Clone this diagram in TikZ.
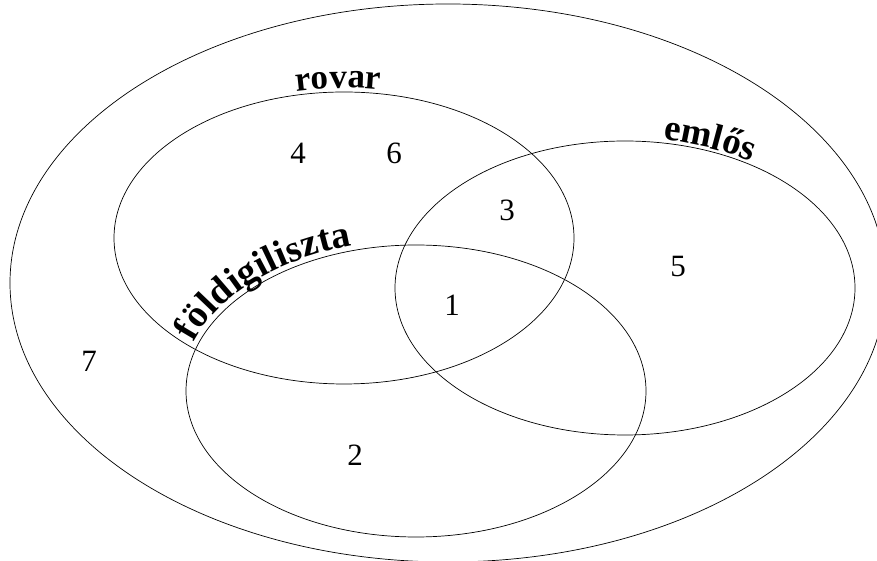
\documentclass[tikz,border=0pt]{standalone}
\usepackage{fontspec}
\setmainfont{Liberation Serif}
\usetikzlibrary{decorations.text}
\begin{document}
\begin{tikzpicture}[x=1pt,y=1pt,
  setline/.style={draw=black, line width=0.7pt},
  num/.style={font=\fontsize{31}{31}\selectfont, inner sep=0pt},
  lbl/.style={decorate, decoration={text along path, text align=center, raise=#1}}]
\useasboundingbox (0,0) rectangle (877,561);
\clip (0,0) rectangle (877,561);
% outer set
\coordinate (O) at (448,278);
\draw[setline] (O) ellipse [x radius=438, y radius=279];
% three sets
\coordinate (R) at (344,323);
\coordinate (E) at (625,273);
\coordinate (F) at (416,170);
\draw[setline] (R) ellipse [x radius=230, y radius=146];
\draw[setline] (E) ellipse [x radius=230, y radius=147];
\draw[setline] (F) ellipse [x radius=230, y radius=146];
% labels along the ellipses
\path[lbl=4pt, decoration={text={|\bfseries\fontsize{35}{35}\selectfont|rovar}}]
  (R) ++(120:230 and 146) arc[start angle=120, end angle=63, x radius=230, y radius=146];
\path[lbl=3pt, decoration={text={|\bfseries\fontsize{37}{37}\selectfont|emlős}}]
  (E) ++(100:230 and 147) arc[start angle=100, end angle=34, x radius=230, y radius=147];
\path[lbl=5pt, decoration={text={|\bfseries\fontsize{38}{38}\selectfont|földigiliszta}}]
  (F) ++(186:230 and 146) arc[start angle=186, end angle=90, x radius=230, y radius=146];
% region numbers
\node[num] (n4) at (298,408) {4};
\node[num] (n6) at (394,408) {6};
\node[num] (n3) at (507,351) {3};
\node[num] (n1) at (452,256) {1};
\node[num] (n5) at (678,294) {5};
\node[num] (n2) at (355,106) {2};
\node[num] (n7) at (89,200) {7};
\end{tikzpicture}
\end{document}
